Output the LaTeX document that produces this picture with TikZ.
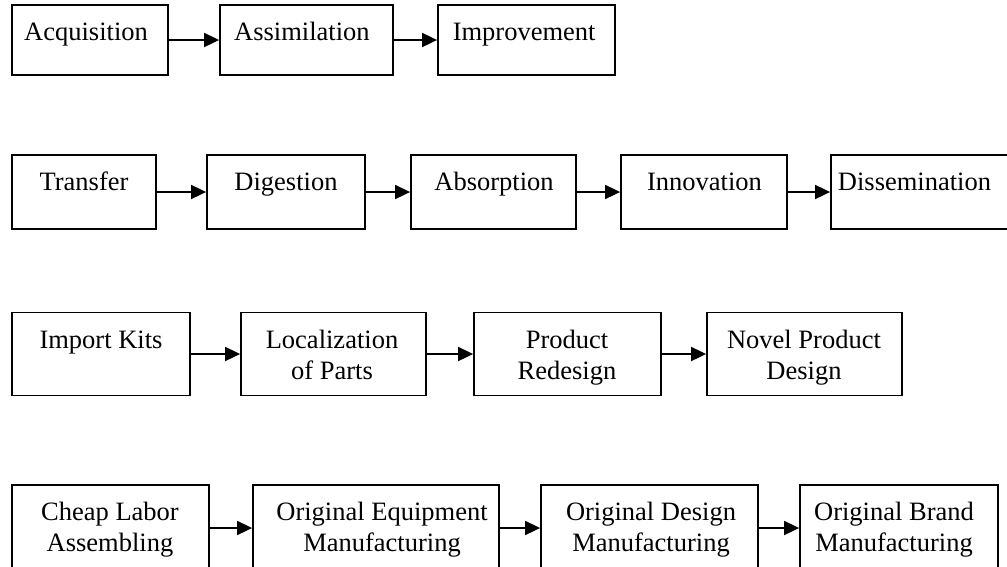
\documentclass[tikz,border=0pt]{standalone}
\usepackage{fontspec}
\setmainfont{Liberation Serif}
\usetikzlibrary{arrows.meta}
\tikzset{
  box/.style={draw, line width=1.8pt, rectangle, inner sep=0pt, outer sep=0pt},
  lbl/.style={inner sep=0pt, font=\fontsize{26.5}{31}\selectfont, align=center},
  flow/.style={line width=1.8pt, -{Triangle[length=15pt,width=14pt]}, shorten >=0.9pt}
}
\begin{document}
\begin{tikzpicture}[x=1pt,y=-1pt]
\useasboundingbox (0,0) rectangle (1007,566);

% Row 1: acquisition chain
\node[box, minimum width=156pt, minimum height=70pt] (a1) at (90,40) {};
\node[box, minimum width=173pt, minimum height=70pt] (a2) at (306.5,40) {};
\node[box, minimum width=177pt, minimum height=70pt] (a3) at (526.5,40) {};
\node[lbl, anchor=base west] (ta1) at (24,40.5) {Acquisition};
\node[lbl, anchor=base west] (ta2) at (234,40.5) {Assimilation};
\node[lbl, anchor=base west] (ta3) at (452.6,40.5) {Improvement};
\draw[flow] (a1) -- (a2);
\draw[flow] (a2) -- (a3);

% Row 2: transfer chain
\node[box, minimum width=144pt, minimum height=74pt] (b1) at (84,192) {};
\node[box, minimum width=158pt, minimum height=74pt] (b2) at (286,192) {};
\node[box, minimum width=165pt, minimum height=74pt] (b3) at (493.5,192) {};
\node[box, minimum width=166pt, minimum height=74pt] (b4) at (704,192) {};
\node[box, minimum width=181pt, minimum height=74pt] (b5) at (921.5,192) {};
\node[lbl, anchor=base] (tb1) at (84,190) {Transfer};
\node[lbl, anchor=base] (tb2) at (286,190) {Digestion};
\node[lbl, anchor=base] (tb3) at (494,190) {Absorption};
\node[lbl, anchor=base] (tb4) at (704.5,190) {Innovation};
\node[lbl, anchor=base] (tb5) at (914.5,190) {Dissemination};
\draw[flow] (b1) -- (b2);
\draw[flow] (b2) -- (b3);
\draw[flow] (b3) -- (b4);
\draw[flow] (b4) -- (b5);

% Row 3: product chain (two-line labels are placed by their last baseline)
\node[box, minimum width=178pt, minimum height=83pt] (c1) at (101,354) {};
\node[box, minimum width=185pt, minimum height=83pt] (c2) at (333.5,354) {};
\node[box, minimum width=187pt, minimum height=83pt] (c3) at (567.5,354) {};
\node[box, minimum width=195pt, minimum height=83pt] (c4) at (804.5,354) {};
\node[lbl, anchor=base] (tc1) at (101,348) {Import Kits};
\node[lbl, anchor=base] (tc2) at (332,379) {Localization\\of Parts};
\node[lbl, anchor=base] (tc3) at (567,379) {Product\\Redesign};
\node[lbl, anchor=base] (tc4) at (804,379) {Novel Product\\Design};
\draw[flow] (c1) -- (c2);
\draw[flow] (c2) -- (c3);
\draw[flow] (c3) -- (c4);

% Row 4: manufacturing chain
\node[box, minimum width=197pt, minimum height=86pt] (d1) at (110.5,528) {};
\node[box, minimum width=246pt, minimum height=86pt] (d2) at (376,528) {};
\node[box, minimum width=217pt, minimum height=86pt] (d3) at (649.5,528) {};
\node[box, minimum width=198pt, minimum height=86pt] (d4) at (899,528) {};
\node[lbl, anchor=base] (td1) at (110,551.7) {Cheap Labor\\Assembling};
\node[lbl, anchor=base] (td2) at (382,551.7) {Original Equipment\\Manufacturing};
\node[lbl, anchor=base] (td3) at (651,551.7) {Original Design\\Manufacturing};
\node[lbl, anchor=base] (td4) at (894,551.7) {Original Brand\\Manufacturing};
\draw[flow] (d1) -- (d2);
\draw[flow] (d2) -- (d3);
\draw[flow] (d3) -- (d4);
\end{tikzpicture}
\end{document}
